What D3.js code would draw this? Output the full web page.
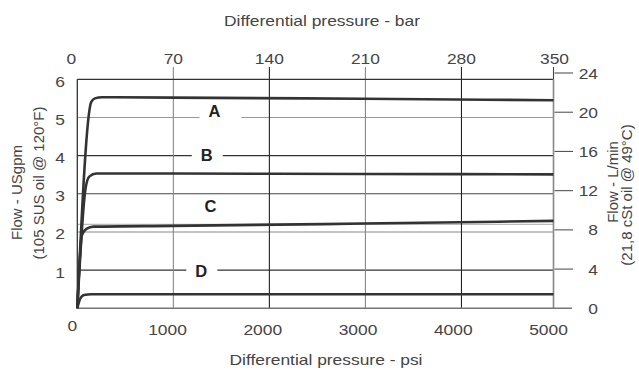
<!DOCTYPE html>
<html>
<head>
<meta charset="utf-8">
<script src="https://cdn.jsdelivr.net/npm/d3@7"></script>
<style>
  body { margin: 0; background: #fff; }
  svg { display: block; font-family: "Liberation Sans", Arial, sans-serif; }
</style>
</head>
<body>
<div id="chart"></div>
<script>
// tick values for the four axes
const barTicks = [0, 70, 140, 210, 280, 350];
const psiTicks = [0, 1000, 2000, 3000, 4000, 5000];
const gpmTicks = [0, 1, 2, 3, 4, 5, 6];
const lpmTicks = [0, 4, 8, 12, 16, 20, 24];

// horizontal grid (USgpm) and vertical grid (bar)
const gridGpm = [1, 2, 2.2, 3, 4, 5];
const gridBar = [70, 140, 210, 280];

// curves: psi vs USgpm
const curveNames = ["A", "B", "C", "D"];
const psiA = [0, 147, 185, 260, 1000, 3000, 5000];
const flowA = [0, 5.41, 5.50, 5.53, 5.52, 5.49, 5.45];
const psiB = [0, 84, 125, 200, 1000, 3000, 5000];
const flowB = [0, 3.1, 3.45, 3.53, 3.53, 3.52, 3.51];
const psiC = [0, 49, 95, 170, 1000, 3000, 5000];
const flowC = [0, 1.92, 2.08, 2.14, 2.16, 2.22, 2.29];
const psiD = [0, 30, 70, 150, 1000, 5000];
const flowD = [0, 0.25, 0.35, 0.37, 0.37, 0.37];

// curve label positions (psi, USgpm)
const labelPsi = [1439, 1359, 1397, 1302];
const labelGpm = [5.16, 4.02, 2.68, 0.97];

const W = 639, H = 370;
const svg = d3.select("#chart").append("svg")
  .attr("width", W).attr("height", H);

const pLeft = 77.3, pRight = 553.5, pTop = 79.3, pBottom = 308.3;

const xPsi = d3.scaleLinear().domain([0, 5000]).range([pLeft, pRight]);
const xBar = d3.scaleLinear().domain([0, 350]).range([pLeft, 557.5]);
const yGpm = d3.scaleLinear().domain([0, 6]).range([pBottom, pTop]);
const yLpm = d3.scaleLinear().domain([0, 24]).range([pBottom, 73]);

const gridColor = {1: "#333", 2: "#888", 2.2: "#bbb", 3: "#444", 4: "#333", 5: "#999"};
const vColor = {70: "#888", 140: "#222", 210: "#888", 280: "#222"};

// horizontal grid
svg.append("g").selectAll("line").data(gridGpm).join("line")
  .attr("x1", pLeft).attr("x2", pRight)
  .attr("y1", d => yGpm(d)).attr("y2", d => yGpm(d))
  .attr("stroke", d => gridColor[d]).attr("stroke-width", 1.1);

// vertical grid, poking above the frame as the bar ticks
svg.append("g").selectAll("line").data(gridBar).join("line")
  .attr("x1", d => xBar(d)).attr("x2", d => xBar(d))
  .attr("y1", 67).attr("y2", pBottom)
  .attr("stroke", d => vColor[d]).attr("stroke-width", 1.1);
// 350 tick stub at the right frame edge
svg.append("line")
  .attr("x1", pRight).attr("x2", pRight).attr("y1", 67).attr("y2", pTop)
  .attr("stroke", "#444").attr("stroke-width", 1.1);

// frame
svg.append("line").attr("x1", pLeft).attr("x2", pRight).attr("y1", pTop).attr("y2", pTop)
  .attr("stroke", "#333").attr("stroke-width", 1.3);
svg.append("line").attr("x1", pLeft).attr("x2", pLeft).attr("y1", pTop).attr("y2", pBottom)
  .attr("stroke", "#333").attr("stroke-width", 1.3);
svg.append("line").attr("x1", pRight).attr("x2", pRight).attr("y1", pTop).attr("y2", pBottom)
  .attr("stroke", "#888").attr("stroke-width", 1.6);
svg.append("line").attr("x1", pLeft).attr("x2", 572).attr("y1", pBottom).attr("y2", pBottom)
  .attr("stroke", "#777").attr("stroke-width", 1.4);

// right axis ticks (L/min)
svg.append("g").selectAll("line").data(lpmTicks.filter(d => d > 0)).join("line")
  .attr("x1", pRight + 1).attr("x2", 573)
  .attr("y1", d => yLpm(d)).attr("y2", d => yLpm(d))
  .attr("stroke", "#555").attr("stroke-width", 1.1);

// label backgrounds (gaps in the grid) and curve labels
const lab = svg.append("g");
curveNames.forEach((n, i) => {
  const t = lab.append("text")
    .attr("x", xPsi(labelPsi[i])).attr("y", yGpm(labelGpm[i]) + 6)
    .attr("text-anchor", "middle")
    .attr("font-size", 16.5).attr("font-weight", "bold").attr("fill", "#222")
    .text(n);
  const bb = t.node().getBBox();
  const padR = n === "A" ? 21 : 10;
  lab.insert("rect", "text")
    .attr("x", bb.x - 9).attr("y", bb.y)
    .attr("width", bb.width + 9 + padR).attr("height", bb.height)
    .attr("fill", "#fff");
});

// curves
const series = [
  psiA.map((p, i) => [p, flowA[i]]),
  psiB.map((p, i) => [p, flowB[i]]),
  psiC.map((p, i) => [p, flowC[i]]),
  psiD.map((p, i) => [p, flowD[i]])
];
const line = d3.line()
  .x(d => xPsi(d[0])).y(d => yGpm(d[1]))
  .curve(d3.curveMonotoneX);
svg.append("g").selectAll("path").data(series).join("path")
  .attr("d", line)
  .attr("fill", "none").attr("stroke", "#333").attr("stroke-width", 2.6)
  .attr("stroke-linejoin", "round");

// text in the picture is a little wide, so stretch it sideways
const txt = (g, x, y, s, anchor) => g.append("text")
  .attr("transform", `translate(${x},${y}) scale(1.16,1)`)
  .attr("text-anchor", anchor)
  .attr("font-size", 15).attr("fill", "#444")
  .text(s);

const ticksG = svg.append("g");
barTicks.forEach(d => txt(ticksG, xBar(d) - (d === 350 ? 3 : 0) - (d === 0 ? 6 : 0), 64, d, "middle"));
psiTicks.forEach(d => txt(ticksG, xPsi(d) - 5, d === 0 ? 331 : 335, d, "middle"));
gpmTicks.filter(d => d > 0).forEach(d => txt(ticksG, 65, yGpm(d) + 7.5, d, "end"));
lpmTicks.forEach(d => txt(ticksG, 598, yLpm(d) + 5.5, d, "end"));

// axis titles
txt(svg, 322, 26, "Differential pressure - bar", "middle");
txt(svg, 326, 365, "Differential pressure - psi", "middle");

const vTitle = (x, y, s) => svg.append("text")
  .attr("transform", `translate(${x},${y}) rotate(-90)`)
  .attr("text-anchor", "middle")
  .attr("font-size", 15).attr("fill", "#444")
  .text(s);
vTitle(22, 192.5, "Flow - USgpm");
vTitle(43.5, 183, "(105 SUS oil @ 120°F)");
vTitle(618, 182, "Flow - L/min");
vTitle(632, 195, "(21,8 cSt oil @ 49°C)");
</script>
</body>
</html>
